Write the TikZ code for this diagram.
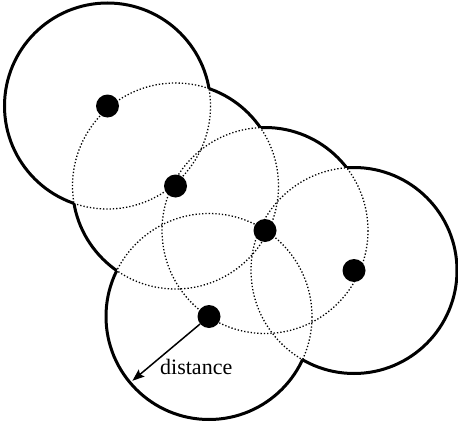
\documentclass[tikz,border=0pt]{standalone}
\usepackage{fontspec}
\setmainfont{Liberation Serif}
\usetikzlibrary{calc,arrows.meta}
\tikzset{
  dotcircle/.style={line width=1.3pt, dash pattern=on 1.3pt off 2.0pt, black},
  bound/.style={line width=3pt, black},
  dotnode/.style={circle, fill=black, draw=none, minimum size=23pt, inner sep=0pt},
  distarrow/.style={line width=1.5pt, -{Stealth[length=12pt,width=9pt,inset=2pt]}},
}
\def\R{103}
\newcommand{\myboundarc}[5]{%
  \begin{scope}[even odd rule]
    \clip (-20,-20) rectangle (480,445) (#2) circle[radius=\R];
    \clip (-20,-20) rectangle (480,445) (#3) circle[radius=\R];
    \clip (-20,-20) rectangle (480,445) (#4) circle[radius=\R];
    \clip (-20,-20) rectangle (480,445) (#5) circle[radius=\R];
    \draw[bound] (#1) circle[radius=\R];
  \end{scope}}
\begin{document}
\begin{tikzpicture}[x=1pt,y=-1pt]
\useasboundingbox (0,0) rectangle (458,423);
\coordinate (cA) at (107.5,106);
\coordinate (cB) at (175.5,186);
\coordinate (cC) at (265,230.5);
\coordinate (cD) at (354,270.5);
\coordinate (cE) at (209,316.5);
% dotted full circles
\foreach \c in {cA,cB,cC,cD,cE}{
  \draw[dotcircle] (\c) circle[radius=\R];
}
% thick outer boundary: each circle clipped outside the others
\myboundarc{cA}{cB}{cC}{cD}{cE}
\myboundarc{cB}{cA}{cC}{cD}{cE}
\myboundarc{cC}{cA}{cB}{cD}{cE}
\myboundarc{cD}{cA}{cB}{cC}{cE}
\myboundarc{cE}{cA}{cB}{cC}{cD}
% centre dots
\node[dotnode] (A) at (cA) {};
\node[dotnode] (B) at (cB) {};
\node[dotnode] (C) at (cC) {};
\node[dotnode] (D) at (cD) {};
\node[dotnode] (E) at (cE) {};
% distance arrow
\coordinate (tip) at ($(cE)+(140:100)$);
\draw[distarrow] (E) -- (tip);
\node[anchor=base west, inner sep=0pt, font=\fontsize{22}{26}\selectfont] (lbl) at (160,374) {distance};
\end{tikzpicture}
\end{document}
